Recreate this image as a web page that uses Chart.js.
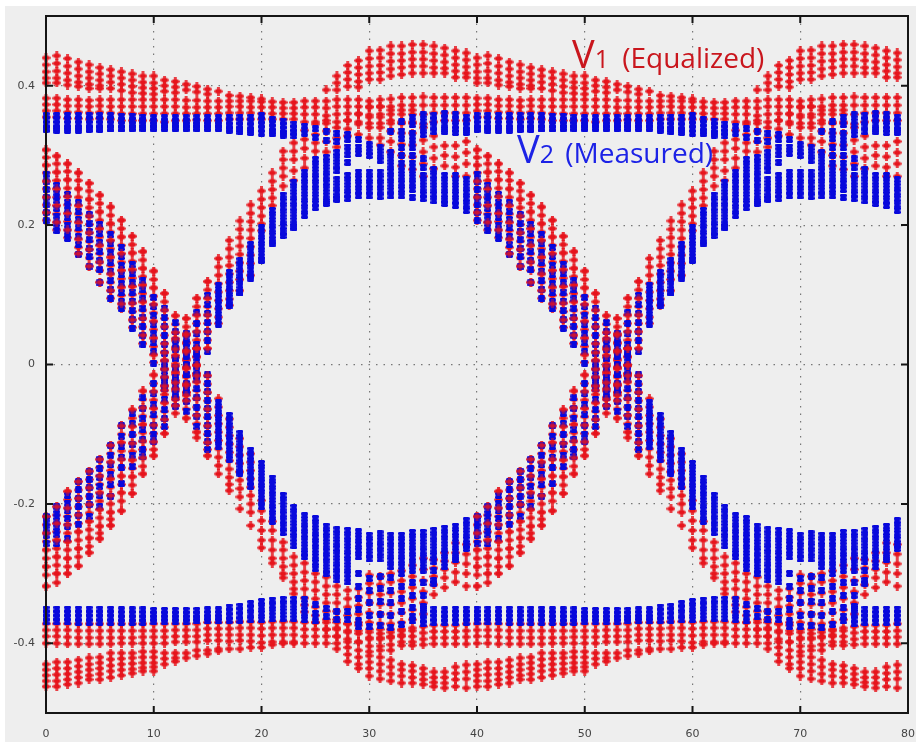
<!DOCTYPE html>
<html>
<head>
<meta charset="utf-8">
<title>Eye diagram</title>
<script src="https://cdn.jsdelivr.net/npm/chart.js@4"></script>
<style>
html,body{margin:0;padding:0;background:#fff;width:916px;height:742px;overflow:hidden}
#bg{position:absolute;left:5px;top:6px;right:0;bottom:0;background:#eeeeee}
canvas#c{position:absolute;left:0;top:0;filter:blur(0.5px)}
.lab{position:absolute;font-family:"Open Sans",sans-serif;white-space:nowrap;line-height:1}
.big{font-size:38px}.mid{font-size:25px}.txt{font-size:28px}
</style>
</head>
<body>
<div id="bg"></div>
<canvas id="c" width="916" height="742"></canvas>
<div class="lab" style="left:572px;top:34px;color:#c9161d"><span class="big">V</span><span class="mid">1</span><span class="txt" style="margin-left:6px"> (Equalized)</span></div>
<div class="lab" style="left:517px;top:129px;color:#1c22e6"><span class="big">V</span><span class="mid">2</span><span class="txt" style="margin-left:4px"> (Measured)</span></div>
<script>
// Values in thousandths of a volt; each row is one sample column of the repeating unit interval.
const period = 40;
const crossingColumns = 16;
const xTicks = [0,10,20,30,40,50,60,70,80];
const yTicks = [-0.4,-0.2,0,0.2,0.4];
const yTickLabels = ["-0.4","-0.2","0","0.2","0.4"];

const redOuterUp = [
[440,430,420,411,404],[443,432,421,411,404],[439,428,418,408,401],[434,424,414,405,399],
[430,420,411,402,396],[426,417,408,400,396],[423,414,405,396],[420,411,402,393],
[417,408,399,390],[414,405,397,389],[414,404,396,388],[408,400,392],
[406,398,390],[402,394],[399,391],[395,388],[392],[386],[385],[383],
[381],[],[],[],[],[],[394],[414,404,394],
[429,419,409,399],[436,426,416,406,398],[450,439,428,418,409],[451,440,429,419,409],
[457,446,435,424,414],[457,446,436,426,416],[459,448,438,428,418],[459,448,438,428,418],
[457,446,436,426,418],[454,444,434,425,418],[450,440,430,421,412],[447,437,427,418,412]];

const redRailUp = [
[382,373,364,355],[382,373,364,355],[380,371,362,353],[380,371,362,353],[379,370,361,352],[380,371,362,353],
[380,370,361,352],[380,370,360,350],[380,370,360,350],[380,370,360,350],[380,370,360,350],[380,370,360,348],
[380,370,360,350],[379,369,360,350],[379,369,360,351],[378,369,360,350],[378,369,360,350],[378,370,361,352],
[378,370,361,352],[378,369,361,352],[377,369,360,352],[377,369,360,352],[376,368,360,352],[376,368,360,352],
[378,369,359,348],[378,369,359,348],[378,368,357,346],[380,370,359,348],[380,370,360,350],[380,370,359,348],
[378,369,358,346],[380,370,359,346],[381,370,359,346],[383,372,359,346],[383,372,359,346],[384,372,359,345],
[383,372,361,348],[383,372,361,350],[383,372,361,350],[383,372,361,350]];

const redFalling = [
[308,297,286,275,263,252,240,229,218,207],[299,288,276,264,252,240,228,216,204,193],[288,277,265,253,241,229,217,205,193,182],
[275,264,252,240,228,216,204,192,180,168,159],[260,249,237,225,213,201,189,177,165,153,141],[243,231,219,207,195,183,171,159,147,135,118],
[226,214,202,190,178,166,154,142,130,118,106,95],[207,195,183,171,159,147,135,123,111,99,87,81],[184,172,160,148,136,124,112,100,88,76,64,53],
[162,150,138,126,114,102,90,78,66,54,42,30],[134,122,110,98,86,74,62,50,38,26,14,3],[102,90,78,66,54,42,30,18,6,-6,-18,-30,-37],
[70,58,46,34,22,10,-2,-14,-26,-38,-50,-59],[44,32,20,8,-4,-16,-28,-40,-52,-64,-77],[23,11,-1,-13,-25,-37,-49,-61,-73,-85,-97,-105],
[-16,-28,-40,-52,-64,-76,-88,-100,-112,-122,-131],[-49,-61,-73,-85,-97,-109,-121,-133,-145,-157],[-78,-90,-102,-114,-126,-138,-150,-162,-172,-181],
[-106,-118,-130,-142,-154,-166,-178,-190,-207],[-128,-140,-152,-164,-176,-188,-200,-212,-231],[-195,-210,-224,-238,-252,-263],
[-225,-238,-252,-266,-278,-285],[-255,-266,-278,-290,-300,-306],[-276,-288,-300,-312,-322,-329],
[-285,-298,-310,-322,-335,-345,-355],[-300,-312,-324,-336,-348,-360,-370],[-305,-318,-330,-342,-354,-366,-380],
[-318,-330,-342,-354,-366,-378,-390],[-324,-336,-348,-360,-372,-384,-398],[-322,-334,-346,-358,-370,-382,-398],
[-302,-314,-328,-342,-356,-370,-384,-394],[-304,-316,-330,-344,-358,-372,-386,-394],[-300,-312,-328,-344,-358,-372,-384,-390],
[-296,-310,-326,-342,-356,-370,-382,-388],[-288,-304,-320,-336,-352,-366,-378],[-278,-294,-310,-326,-342,-358],
[-280,-292,-304,-316,-330],[-270,-282,-294,-306,-320],[-256,-270,-284,-298,-312],[-258,-272,-286,-300,-318]];

const redRising = [
[-218,-230,-242,-254,-266,-278,-290,-302,-318],[-204,-216,-228,-240,-252,-264,-276,-288,-300,-313],[-182,-194,-206,-218,-230,-242,-254,-266,-278,-290,-300],
[-168,-180,-192,-204,-216,-228,-240,-252,-264,-276,-289],[-153,-165,-177,-189,-201,-213,-225,-237,-249,-261,-270],[-136,-148,-160,-172,-184,-196,-208,-220,-232,-242,-250],
[-116,-128,-140,-152,-164,-176,-188,-200,-212,-222,-231],[-88,-100,-112,-124,-136,-148,-160,-172,-184,-196,-210],[-65,-77,-89,-101,-113,-125,-137,-149,-161,-173,-185],
[-38,-50,-62,-74,-86,-98,-110,-122,-134,-146,-157],[-15,-27,-39,-51,-63,-75,-87,-99,-111,-122,-131],[17,5,-7,-19,-31,-43,-55,-67,-79,-90,-99],
[37,25,13,1,-11,-23,-35,-47,-59,-70],[66,54,42,30,18,6,-6,-18,-30,-40,-44],[95,83,71,59,47,35,23,11,-1,-13,-16],
[119,107,95,83,71,59,47,35,23],[152,140,128,116,104,92,80,68,59],[178,166,154,142,130,118,106,94,85],
[206,194,182,170,158,146,134,122,106],[229,217,205,193,181,169,157,145,128],[249,237,225,213,202,192],
[275,263,251,239,228],[306,294,282,270,256],[318,306,294,278,264],[336,323,310,296,282],
[345,330,318,306],[350,335,320,305],[340,325,312],[350,338,328],[360,345,330],
[370,355,340,325],[370,355,340,325,315],[365,350,335,320,305],[365,348,332,316,300,285],[365,348,332,315,298,280],
[340,322,305,288,270],[328,312,296,281],[314,300,285],[314,298,283,270],[320,304,288,270]];

const redRailLo = [
[-372,-381,-390,-400],[-372,-381,-390,-400],[-372,-381,-391,-401],[-372,-382,-392,-401],
[-372,-382,-392,-401],[-372,-382,-392,-401],[-372,-382,-392,-401],[-372,-382,-392,-400],
[-372,-382,-392,-400],[-372,-382,-391,-400],[-372,-382,-391,-400],[-372,-382,-391,-400],
[-372,-381,-390,-398],[-372,-381,-390,-398],[-372,-381,-390,-398],[-370,-379,-388,-396],
[-370,-379,-388,-396],[-370,-379,-388,-397],[-369,-378,-388,-396],[-369,-378,-388,-397],
[-370,-379,-389,-399],[-369,-378,-388,-398],[-369,-378,-388,-398],[-369,-378,-388,-398],
[-370,-380,-390,-400],[-370,-380,-390,-400],[-370,-380,-390,-400],[-370,-380,-390,-400],
[-372,-382,-394,-406],[-374,-386,-398,-410],[-380,-392,-404,-412],[-380,-392,-404,-410],
[-380,-392,-402,-410],[-380,-390,-398,-403],[-382,-390,-398,-403],[-376,-385,-394,-402],
[-374,-383,-392,-401],[-374,-383,-392,-401],[-374,-383,-392,-401],[-372,-382,-391,-401]];

const redOuterLo = [
[-430,-438,-446,-454,-462],[-427,-436,-445,-454,-462],[-427,-436,-444,-452,-459],[-424,-433,-441,-449,-457],
[-421,-430,-438,-446,-452],[-420,-428,-436,-444,-452],[-414,-423,-432,-440,-449],[-414,-422,-430,-438,-446],
[-414,-421,-429,-437,-443],[-412,-420,-428,-435,-440],[-412,-420,-428,-434,-440],[-414,-422,-430],
[-414,-421,-426],[-414,-421],[-410,-418],[-410,-415],[-408,-411],[-408],[-408],[-406],
[-406],[-402],[-400],[-400],[],[],[],[-408],[-416,-426],[-420,-430,-436],
[-418,-427,-436,-447],[-420,-430,-440,-451],[-424,-434,-444,-454],[-430,-438,-447,-457],[-432,-440,-449,-457],
[-436,-444,-452,-459],[-441,-449,-456,-462],[-441,-449,-457,-464],[-434,-443,-452,-462],[-431,-441,-451,-464]];

const blueRailUp = [
[357,351,345,339,337],[357,351,345,339,336],[357,351,345,339,336],[357,351,345,339,336],[357,351,345,339,337],
[357,351,345,339,337],[357,351,345,339,338],[356,350,344,339,338],[356,350,344,340,338],[355,350,344,340,338],
[354,349,344,340,338],[354,349,344,340,338],[354,349,344,340,338],[354,349,344,340,338],[354,349,344,340,338],
[354,349,344,340,338],[354,349,344,340,338],[355,349,343,338,336],[355,349,343,337,334],[355,349,342,336,333],
[357,350,344,338,332],[352,346,340,334,331],[349,343,337,332,329],[345,339,333,328],[342,332],[338,326],[335,322],
[332,320],[330],[],[],[],[335],[348,335,324],[355,344,332,322],[358,349,339,330],
[357,350,342,334],[360,353,345,337,334],[358,351,343,337,333],[355,349,342,336,333]];

const blueFalling = [
[273,262,251,240,229,218,206],[257,246,235,224,213,202,192],[244,233,222,211,200,190,181],[232,220,208,196,184,172,158],
[215,203,191,179,167,155,140],[201,188,175,162,149,136,117],[186,173,160,147,134,121,108,94],[168,155,142,129,116,103,90,80],
[143,130,117,104,91,78,65,52],[120,107,94,81,68,55,42,29],[96,83,70,57,44,31,18,2],[81,68,55,42,29,16,3,-10,-23,-31],
[60,47,34,21,8,-5,-18,-31,-45],[38,25,12,-1,-14,-27,-40,-53,-67],[17,4,-9,-22,-35,-48,-61,-74,-89],[-15,-27,-39,-51,-63,-75,-87,-99,-111,-122],
[-55,-64,-73,-82,-91,-100,-109,-117],[-73,-82,-91,-100,-109,-118,-127,-136],[-99,-108,-117,-126,-135,-144,-153,-156],[-123,-132,-141,-150,-159,-168,-175],
[-142,-151,-160,-169,-178,-187,-196,-204],[-163,-172,-181,-190,-199,-208,-217,-225],[-188,-197,-206,-215,-224,-233,-241],[-205,-214,-223,-232,-241,-250,-260],
[-217,-226,-235,-244,-253,-262,-271,-276],[-221,-230,-239,-248,-257,-266,-275,-284,-293],[-232,-241,-250,-259,-268,-277,-286,-295,-300],[-237,-246,-255,-264,-273,-282,-291,-300,-309],
[-238,-247,-256,-265,-274,-283,-292,-301,-312],[-240,-249,-258,-267,-276,-300,-318,-336,-352,-368,-376],[-245,-254,-263,-272,-279,-307,-324,-342,-360,-376],[-243,-252,-261,-270,-279,-304,-322,-340,-358,-375],
[-245,-254,-263,-272,-281,-290,-306,-324,-342,-360,-377],[-245,-254,-263,-272,-281,-290,-300,-318,-336,-354,-373],[-241,-250,-259,-268,-277,-286,-295,-313,-331,-349,-361],[-241,-250,-259,-268,-277,-286,-295,-313,-331,-347],
[-238,-247,-256,-265,-274,-283,-296,-310,-314],[-235,-244,-253,-262,-271,-280,-290],[-232,-241,-250,-259,-268,-277,-280],[-224,-233,-242,-251,-260,-264]];

const blueRising = [
[-218,-227,-236,-245,-257],[-204,-214,-224,-234,-244,-257],[-188,-199,-210,-221,-232,-250],[-168,-180,-192,-204,-216,-229],
[-153,-165,-177,-189,-201,-218],[-136,-149,-162,-175,-188,-204],[-116,-130,-144,-158,-172,-189],[-88,-103,-118,-133,-148,-171],
[-70,-85,-100,-115,-130,-146],[-48,-63,-78,-93,-108,-122,-132],[-27,-42,-57,-72,-87,-100,-110],[-5,-20,-35,-50,-65,-78,-89],
[24,9,-6,-21,-36,-48,-60],[45,30,15,0,-15,-30,-38],[74,59,44,29,14,-1,-17],[99,86,73,60,47,34,19],
[113,104,95,86,77,68,58],[132,123,114,105,96,87,84],[149,140,131,122,113,104,103],[172,163,154,145,136,127,124],
[196,187,178,169,160,151,149],[221,212,203,194,185,176,173],[243,234,225,216,207,198,189,185],[261,252,243,234,225,216,207,198,196],
[276,267,258,249,240,231,222,214],[294,285,276,267,258,249,240,231,225],[297,288,279,270,261,252,243,234,231],[304,295,286,278,265,256,247,238,237],
[323,312,301,290,271,262,253,244,238],[323,312,303,276,267,258,249,242],[315,305,300,276,267,258,249,242],[311,302,293,276,267,258,249,241],
[304,295,286,277,268,259,250,242],[311,300,289,278,269,260,251,242],[311,300,289,278,269,260,251,240],[295,283,271,262,253,244,238],
[280,271,262,253,244,235],[271,262,253,244,235,231],[271,262,253,244,235,228],[265,256,247,238,229,221]];

const blueRailLo = [
[-351,-357,-363,-369],[-351,-357,-363,-369],[-351,-357,-363,-369],[-351,-357,-363,-370],[-351,-357,-363,-370],
[-351,-357,-363,-370],[-351,-357,-363,-370],[-352,-358,-364,-370],[-352,-358,-364,-370],[-352,-358,-364,-370],
[-353,-358,-364,-369],[-353,-358,-364,-369],[-353,-358,-364,-369],[-353,-358,-364,-369],[-353,-358,-364,-368],
[-352,-358,-363,-368],[-352,-358,-363,-368],[-348,-354,-361,-367],[-347,-353,-360,-367],[-343,-350,-358,-366],
[-340,-348,-357,-366],[-338,-346,-355,-365],[-337,-345,-354,-364],[-337,-345,-354,-364],[-337,-347,-357,-366],
[-345,-357,-368],[-350,-362],[-354,-366],[-354,-366],[],[],[],[],[],[-368],
[-350,-358,-366,-372],[-351,-357,-363,-370],[-352,-358,-364,-370],[-351,-357,-363,-370],[-351,-357,-363,-370]];

function toPoints(rows){
  const pts=[];
  for(let x=0;x<2*period;x++){
    for(const v of rows[x%period]) pts.push({x:x,y:v/1000});
  }
  return pts;
}
// every other red sample of the columns around the crossing, plotted above the blue so the two colours mingle there
const mingled=rows=>rows.map((r,i)=>i<crossingColumns?r.filter((_,k)=>k%2===0):[]);
const RED="#e6141c", BLUE="#0808dc";
function markerCanvas(w,h,draw){const m=document.createElement("canvas");m.width=w;m.height=h;const g=m.getContext("2d");draw(g);return m;}
// fat plus with a thick waist, as the plotted '+' glyphs look in the reference
const redMark=markerCanvas(9,9,g=>{g.fillStyle=RED;g.globalAlpha=.8;g.fillRect(0,3.5,9,2);g.fillRect(3,0,3,9);g.globalAlpha=1;g.fillRect(1.5,2.5,6,4);});
// the same glyph, translucent, for the mingled overlay
const redMix=markerCanvas(9,9,g=>{g.fillStyle=RED;g.globalAlpha=.45;g.fillRect(0,3.5,9,2);g.fillRect(3,0,3,9);g.globalAlpha=.7;g.fillRect(1.5,2.5,6,4);});
// heavy x glyph that merges into a solid block when stacked
const blueMark=markerCanvas(7,7,g=>{g.fillStyle=BLUE;g.fillRect(0.5,0,6,7);g.fillRect(0,1,7,1.5);g.fillRect(0,4.5,7,1.5);});
const red=(r,mark)=>({data:toPoints(r),showLine:false,clip:false,pointStyle:mark||redMark,pointRadius:5,pointHoverRadius:5});
const blue=r=>({data:toPoints(r),showLine:false,clip:false,pointStyle:blueMark,pointRadius:4,pointHoverRadius:4});

const frame={id:"frame",afterDatasetsDraw(ch){
  const a=ch.chartArea,c=ch.ctx,sx=ch.scales.x,sy=ch.scales.y,L=7;
  c.save();c.strokeStyle="#151515";c.lineWidth=2;c.strokeRect(a.left,a.top,a.right-a.left,a.bottom-a.top);
  c.lineWidth=2;c.beginPath();
  for(const t of xTicks){const p=sx.getPixelForValue(t);c.moveTo(p,a.top);c.lineTo(p,a.top+L);c.moveTo(p,a.bottom);c.lineTo(p,a.bottom-L);}
  for(const t of yTicks){const p=sy.getPixelForValue(t);c.moveTo(a.left,p);c.lineTo(a.left+L,p);c.moveTo(a.right,p);c.lineTo(a.right-L,p);}
  c.stroke();c.restore();
}};
const gridOpts={color:"#777",lineWidth:1.2,drawTicks:false,tickLength:0};
const tickFont={family:"DejaVu Sans",size:11};
new Chart(document.getElementById("c"),{
  type:"scatter",
  data:{datasets:[red(mingled(redFalling),redMix),red(mingled(redRising),redMix),
    blue(blueRising),blue(blueFalling),blue(blueRailUp),blue(blueRailLo),
    red(redFalling),red(redRising),red(redRailUp),red(redRailLo),red(redOuterUp),red(redOuterLo)]},
  options:{responsive:false,animation:false,events:[],
    layout:{padding:{left:0,right:8,top:16,bottom:0}},
    plugins:{legend:{display:false},tooltip:{enabled:false}},
    scales:{
      x:{type:"linear",min:0,max:80,grid:gridOpts,border:{display:false,dash:[1.5,6]},
        afterBuildTicks(s){s.ticks=xTicks.map(v=>({value:v}));},
        afterFit(s){s.height=29;s.paddingRight=0;s.paddingLeft=0;},
        ticks:{padding:15,color:"#444",font:tickFont,maxRotation:0,autoSkip:false,callback:v=>String(v)}},
      y:{type:"linear",min:-0.5,max:0.5,grid:gridOpts,border:{display:false,dash:[1.5,6]},
        afterBuildTicks(s){s.ticks=yTicks.map(v=>({value:v}));},
        afterFit(s){s.width=46;s.paddingTop=0;s.paddingBottom=0;},
        ticks:{padding:11,color:"#444",font:tickFont,autoSkip:false,callback:v=>yTickLabels[yTicks.indexOf(v)]}}
    }
  },
  plugins:[frame]
});
</script>
</body>
</html>
